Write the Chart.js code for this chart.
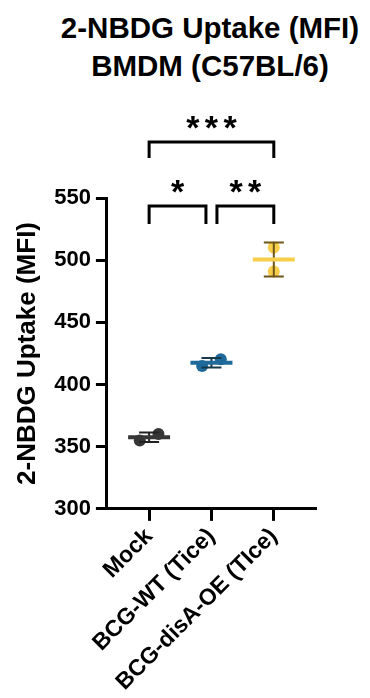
<!DOCTYPE html>
<html>
<head>
<meta charset="utf-8">
<script src="https://cdn.jsdelivr.net/npm/chart.js@4.4.1/dist/chart.umd.min.js"></script>
<style>
  html, body { margin: 0; padding: 0; background: #fff; }
  #wrap { position: relative; width: 370px; height: 698px; }
  #title {
    position: absolute; left: 50px; top: 9px; width: 320px;
    text-align: center; font: bold 29.5px/38px "Liberation Sans", Arial, sans-serif; color: #000;
  }
  canvas { position: absolute; left: 0; top: 0; }
</style>
</head>
<body>
<div id="wrap">
  <div id="title">2-NBDG Uptake (MFI)<br>BMDM (C57BL/6)</div>
  <canvas id="chart" width="370" height="698"></canvas>
</div>
<script>
const CATEGORIES = ['Mock', 'BCG-WT (Tice)', 'BCG-disA-OE (TIce)'];
const MOCK = [354.9, 360.3];
const BCG_WT = [414.9, 420.3];
const BCG_DISA = [510.2, 490.8];
const GROUPS = [MOCK, BCG_WT, BCG_DISA];
const COLORS = ['#363636', '#1f6a9a', '#f8cf4a'];
const ERR_COLORS = ['#222222', '#17394c', '#6e5519'];
const Y_TICKS = [300, 350, 400, 450, 500, 550];

// significance comparisons: [from, to], stars, bracket level
const PAIRS = [[0, 1], [1, 2], [0, 2]];
const STARS = ['*', '**', '***'];
const LEVELS = [0, 0, 1];

const FONT = '"Liberation Sans", Arial, sans-serif';
Chart.defaults.font.family = FONT;
Chart.defaults.color = '#000';

function mean(arr) {
  return arr.reduce((s, v) => s + v, 0) / arr.length;
}

function sd(arr) {
  const m = mean(arr);
  return Math.sqrt(arr.reduce((s, v) => s + (v - m) ** 2, 0) / (arr.length - 1));
}

// spread overlapping replicates sideways, lower value on the left
function jitter(arr) {
  const range = Math.max(...arr) - Math.min(...arr);
  if (range > 10) return arr.map(() => 0);
  const order = arr.slice().sort((a, b) => a - b);
  return arr.map(v => order.indexOf(v) === 0 ? -0.15 : 0.15);
}

const summaryPlugin = {
  id: 'summary',
  afterDatasetsDraw(chart) {
    const { ctx, scales: { x, y } } = chart;
    ctx.save();
    GROUPS.forEach((vals, i) => {
      const cx = x.getPixelForValue(i);
      const m = mean(vals), s = sd(vals);
      const top = y.getPixelForValue(m + s), bot = y.getPixelForValue(m - s);
      ctx.strokeStyle = ERR_COLORS[i];
      ctx.lineWidth = 2;
      ctx.beginPath();
      ctx.moveTo(cx, top); ctx.lineTo(cx, bot);
      ctx.moveTo(cx - 10, top); ctx.lineTo(cx + 10, top);
      ctx.moveTo(cx - 10, bot); ctx.lineTo(cx + 10, bot);
      ctx.stroke();
      const my = y.getPixelForValue(m);
      ctx.strokeStyle = COLORS[i];
      ctx.lineWidth = 4;
      ctx.beginPath();
      ctx.moveTo(cx - 21, my); ctx.lineTo(cx + 21, my);
      ctx.stroke();
    });
    ctx.restore();
  }
};

const bracketPlugin = {
  id: 'brackets',
  afterDraw(chart) {
    const { ctx, chartArea, scales: { x } } = chart;
    ctx.save();
    ctx.strokeStyle = '#000';
    ctx.fillStyle = '#000';
    ctx.lineWidth = 3;
    ctx.font = 'bold 34px ' + FONT;
    ctx.textAlign = 'center';
    ctx.textBaseline = 'middle';
    PAIRS.forEach(([a, b], k) => {
      const level = LEVELS[k];
      const barY = chartArea.top + 8 - level * 64;
      const drop = level ? 16 : 18;
      // shorten brackets that share a group with a neighbour on the same level
      let x1 = x.getPixelForValue(a), x2 = x.getPixelForValue(b);
      if (PAIRS.some(([c, d], j) => j !== k && LEVELS[j] === level && d === a)) x1 += 5.5;
      if (PAIRS.some(([c, d], j) => j !== k && LEVELS[j] === level && c === b)) x2 -= 5.5;
      ctx.beginPath();
      ctx.moveTo(x1, barY + drop);
      ctx.lineTo(x1, barY);
      ctx.lineTo(x2, barY);
      ctx.lineTo(x2, barY + drop);
      ctx.stroke();
      const n = STARS[k].length, cx = (x1 + x2) / 2;
      for (let s = 0; s < n; s++) {
        ctx.fillText('*', cx + (s - (n - 1) / 2) * 18.7, barY - 12);
      }
    });
    ctx.restore();
  }
};

const datasets = GROUPS.map((vals, i) => {
  const offs = jitter(vals);
  return {
    label: CATEGORIES[i],
    data: vals.map((v, j) => ({ x: i + offs[j], y: v })),
    backgroundColor: COLORS[i],
    borderWidth: 0,
    pointRadius: 6,
    pointHoverRadius: 6,
  };
});

new Chart(document.getElementById('chart'), {
  type: 'scatter',
  data: { datasets },
  options: {
    responsive: false,
    animation: false,
    layout: { padding: { left: 12, right: 54, top: 198, bottom: 0 } },
    plugins: { legend: { display: false }, tooltip: { enabled: false }, title: { display: false } },
    scales: {
      x: {
        type: 'linear',
        min: -0.677,
        max: 2.677,
        afterBuildTicks: scale => { scale.ticks = CATEGORIES.map((_, i) => ({ value: i })); },
        ticks: {
          callback: v => CATEGORIES[v],
          font: { size: 23, weight: 'bold' },
          color: '#000',
          minRotation: 45,
          maxRotation: 45,
          padding: 2,
        },
        grid: { drawOnChartArea: false, drawTicks: true, tickLength: 12, tickWidth: 3, tickColor: '#000' },
        border: { display: true, color: '#000', width: 3 },
      },
      y: {
        min: 300,
        max: 550,
        afterBuildTicks: scale => { scale.ticks = Y_TICKS.map(v => ({ value: v })); },
        ticks: { font: { size: 22, weight: 'bold' }, color: '#000', padding: 5 },
        grid: { drawOnChartArea: false, drawTicks: true, tickLength: 11, tickWidth: 3, tickColor: '#000' },
        border: { display: true, color: '#000', width: 3 },
        title: {
          display: true,
          text: '2-NBDG Uptake (MFI)',
          font: { size: 26, weight: 'bold' },
          color: '#000',
          padding: { top: 0, bottom: 6 },
        },
      },
    },
  },
  plugins: [summaryPlugin, bracketPlugin],
});
</script>
</body>
</html>
